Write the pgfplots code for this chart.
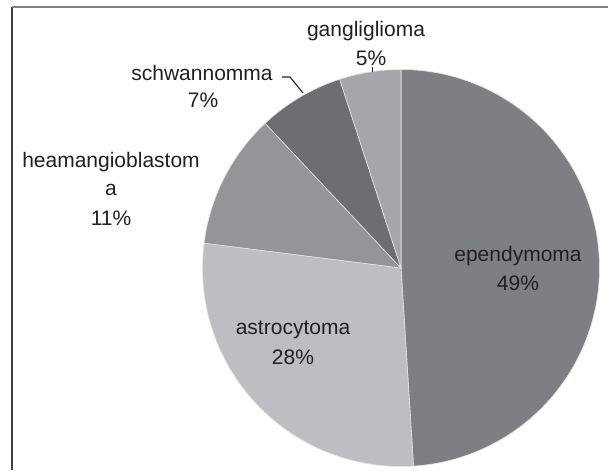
\documentclass[border=0pt]{standalone}
\usepackage{fontspec}
\setmainfont{Liberation Sans}
\usepackage{pgfplots}
\pgfplotsset{compat=1.18}
\definecolor{cEp}{HTML}{7E7F83}
\definecolor{cAs}{HTML}{BDBEC1}
\definecolor{cHe}{HTML}{949598}
\definecolor{cSc}{HTML}{6D6E72}
\definecolor{cGa}{HTML}{A5A6A9}
\definecolor{txt}{HTML}{231F20}
% slice values (percent)
\def\vEp{49}\def\vAs{28}\def\vHe{11}\def\vSc{7}\def\vGa{5}
\pgfmathsetmacro\aA{90-3.6*\vEp}
\pgfmathsetmacro\aB{\aA-3.6*\vAs}
\pgfmathsetmacro\aC{\aB-3.6*\vHe}
\pgfmathsetmacro\aD{\aC-3.6*\vSc}
\pgfmathsetmacro\aE{\aD-3.6*\vGa}
\def\cx{401}\def\cy{268}\def\rr{198.5}
\begin{document}
\begin{tikzpicture}
\begin{axis}[at={(0,0)}, anchor=south west, scale only axis,
  width=304pt, height=235pt, xmin=0, xmax=608, ymin=0, ymax=470,
  y dir=reverse, hide axis, clip=false,
  every axis plot/.append style={draw=white!80!gray, line width=0.3pt, samples=120}]
\addplot[fill=cEp, domain=\aA:90] ({\cx+\rr*cos(x)},{\cy-\rr*sin(x)}) -- (axis cs:\cx,\cy) -- cycle;
\addplot[fill=cAs, domain=\aB:\aA] ({\cx+\rr*cos(x)},{\cy-\rr*sin(x)}) -- (axis cs:\cx,\cy) -- cycle;
\addplot[fill=cHe, domain=\aC:\aB] ({\cx+\rr*cos(x)},{\cy-\rr*sin(x)}) -- (axis cs:\cx,\cy) -- cycle;
\addplot[fill=cSc, domain=\aD:\aC] ({\cx+\rr*cos(x)},{\cy-\rr*sin(x)}) -- (axis cs:\cx,\cy) -- cycle;
\addplot[fill=cGa, domain=\aE:\aD] ({\cx+\rr*cos(x)},{\cy-\rr*sin(x)}) -- (axis cs:\cx,\cy) -- cycle;
% frame
\draw[color=black!75, line width=0.7pt] (axis cs:12,470) -- (axis cs:12,7);
\draw[color=black!50, line width=0.7pt] (axis cs:12,7) -- (axis cs:608,7);
% leader lines
\draw[txt, line width=0.55pt] (axis cs:282,77) -- (axis cs:290,77) -- (axis cs:303,93);
\draw[txt, line width=0.4pt] (axis cs:372,67) -- (axis cs:372,72);
% labels
\begin{scope}[every node/.style={text=txt, font=\fontsize{10.5}{12.6}\selectfont, inner sep=0pt}]
\node at (axis cs:518,256) {ependymoma};
\node at (axis cs:518,283) {49\%};
\node at (axis cs:293,330) {astrocytoma};
\node at (axis cs:293,357) {28\%};
\node at (axis cs:111,162) {heamangioblastom};
\node at (axis cs:111,190) {a};
\node at (axis cs:111,218) {11\%};
\node at (axis cs:202,73) {schwannomma};
\node at (axis cs:203,100) {7\%};
\node at (axis cs:366,31) {gangliglioma};
\node at (axis cs:371,58) {5\%};
\end{scope}
\end{axis}
\pgfresetboundingbox
\path (0,0) rectangle (304pt,235pt);
\end{tikzpicture}
\end{document}
